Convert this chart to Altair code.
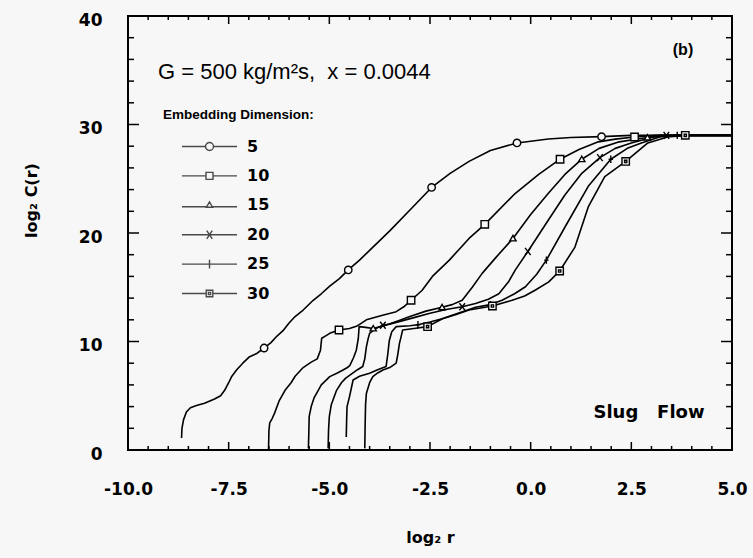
import altair as alt
import pandas as pd

# ---------------- data ----------------
dims = ["5", "10", "15", "20", "25", "30"]

x5 = [-8.67, -8.66, -8.62, -8.55, -8.45, -8.30, -8.10, -7.85, -7.70, -7.60, -7.50, -7.42, -7.30, -7.15,
      -6.98, -6.80, -6.62, -6.45, -6.30, -6.15, -6.00, -5.85, -5.65, -5.40, -5.20, -4.99, -4.75, -4.53,
      -4.25, -4.00, -3.50, -2.95, -2.46, -2.00, -1.53, -1.00, -0.34, 0.44, 1.00, 1.76, 2.50, 5.00]
y5 = [1.1, 2.0, 2.8, 3.5, 3.9, 4.1, 4.3, 4.7, 5.0, 5.5, 6.2, 6.8, 7.4, 8.0,
      8.6, 8.9, 9.4, 9.9, 10.5, 11.0, 11.7, 12.3, 12.9, 13.8, 14.4, 15.1, 15.8, 16.6,
      17.5, 18.4, 20.2, 22.3, 24.2, 25.5, 26.6, 27.6, 28.3, 28.66, 28.8, 28.88, 29.0, 29.0]

x10 = [-6.51, -6.50, -6.48, -6.42, -6.36, -6.25, -6.10, -5.95, -5.85, -5.65, -5.45, -5.30, -5.22, -5.19,
       -5.10, -4.99, -4.76, -4.50, -4.33, -4.20, -4.08, -3.70, -3.34, -3.15, -2.97, -2.70, -2.44, -2.02,
       -1.53, -1.14, -0.38, 0.20, 0.73, 1.20, 1.68, 2.10, 2.58, 3.10, 5.00]
y10 = [0.1, 1.8, 2.5, 2.9, 3.4, 4.5, 5.5, 6.2, 6.8, 7.6, 8.1, 8.4, 9.2, 10.3,
       10.5, 10.75, 11.06, 11.2, 11.4, 11.7, 12.0, 12.4, 12.75, 13.2, 13.8, 14.7, 16.0, 17.5,
       19.5, 20.8, 23.66, 25.4, 26.8, 27.7, 28.4, 28.65, 28.85, 29.0, 29.0]

x15 = [-5.52, -5.51, -5.50, -5.45, -5.38, -5.32, -5.20, -4.99, -4.80, -4.66, -4.55, -4.49, -4.40, -4.33,
       -4.28, -4.26, -4.10, -3.91, -3.60, -3.30, -3.00, -2.60, -2.20, -1.95, -1.70, -1.45, -1.20, -0.85,
       -0.44, 0.00, 0.44, 0.85, 1.27, 1.70, 2.20, 2.90, 3.20, 5.00]
y15 = [0.15, 1.5, 3.1, 4.0, 4.8, 5.2, 6.0, 6.76, 7.1, 7.37, 7.6, 7.8, 8.5, 9.2,
       10.3, 11.37, 11.3, 11.2, 11.5, 11.9, 12.3, 12.8, 13.15, 13.4, 13.8, 15.0, 16.3, 17.8,
       19.5, 21.7, 23.66, 25.4, 26.8, 27.8, 28.4, 28.8, 29.0, 29.0]

x20 = [-5.03, -5.02, -5.00, -4.95, -4.82, -4.70, -4.60, -4.49, -4.30, -4.17, -4.12, -4.08, -4.04, -4.00,
       -3.85, -3.67, -3.50, -3.20, -2.90, -2.50, -2.10, -1.70, -1.37, -1.05, -0.79, -0.55, -0.38, -0.07,
       0.44, 0.85, 1.27, 1.72, 2.10, 2.50, 3.00, 3.37, 5.00]
y20 = [0.15, 1.8, 3.1, 4.2, 5.5, 6.2, 6.6, 6.9, 7.4, 7.7, 8.4, 9.5, 10.2, 10.75,
       11.2, 11.5, 11.6, 11.9, 12.2, 12.6, 12.95, 13.2, 13.5, 13.9, 14.4, 15.5, 16.6, 18.3,
       21.2, 23.5, 25.5, 26.95, 27.8, 28.3, 28.8, 29.0, 29.0]

x25 = [-4.58, -4.57, -4.56, -4.50, -4.41, -4.25, -4.00, -3.80, -3.59, -3.55, -3.51, -3.45, -3.34, -3.00,
       -2.80, -2.50, -2.20, -1.80, -1.37, -1.00, -0.71, -0.40, -0.13, 0.15, 0.39, 0.86, 1.43, 1.99,
       2.40, 2.75, 3.20, 3.64, 5.00]
y25 = [1.2, 2.8, 4.0, 4.9, 6.45, 6.8, 7.07, 7.4, 7.7, 8.8, 10.1, 10.9, 11.37, 11.45,
       11.55, 11.8, 12.1, 12.6, 13.15, 13.4, 13.8, 14.4, 15.05, 16.2, 17.5, 20.6, 24.3, 26.8,
       27.8, 28.3, 28.85, 29.0, 29.0]

x30 = [-4.12, -4.11, -4.10, -4.08, -4.00, -3.92, -3.80, -3.67, -3.50, -3.34, -3.30, -3.26, -3.22, -3.18,
       -2.90, -2.56, -2.19, -1.85, -1.53, -0.95, -0.46, -0.15, 0.12, 0.45, 0.72, 1.10, 1.43, 1.84,
       2.36, 2.91, 3.40, 3.84, 5.00]
y30 = [0.15, 2.5, 4.2, 5.2, 6.2, 6.76, 7.1, 7.37, 7.6, 8.0, 8.8, 9.8, 10.4, 11.06,
       11.2, 11.37, 12.1, 12.5, 12.9, 13.27, 13.8, 14.2, 14.75, 15.5, 16.5, 18.7, 22.4, 25.2,
       26.6, 28.3, 28.85, 29.0, 29.0]

# x positions (on each curve) where the reference draws a marker
mk5 = [-6.62, -4.53, -2.46, -0.34, 1.76]
mk10 = [-4.76, -2.97, -1.14, 0.73, 2.58]
mk15 = [-3.91, -2.20, -0.44, 1.27, 2.90]
mk20 = [-3.67, -1.70, -0.07, 1.72, 3.37]
mk25 = [-2.80, -1.00, 0.39, 1.99, 3.64]
mk30 = [-2.56, -0.95, 0.72, 2.36, 3.84]

x_tick_labels = [-10.0, -7.5, -5.0, -2.5, 0.0, 2.5, 5.0]
y_tick_labels = [0, 10, 20, 30, 40]
x_minor = [v / 2 for v in range(-20, 11) if (v / 2) not in x_tick_labels]
y_minor = [v for v in range(0, 41, 2) if v not in y_tick_labels]

NB = "\u00a0"
annot_cond = [f"G = 500 kg/m²s,{NB}{NB}x = 0.0044"]
annot_panel = ["(b)"]
annot_flow = [f"Slug{NB}{NB}{NB}Flow"]
legend_title = "Embedding Dimension:"

# ---------------- tables ----------------
rows = []
for d, xs, ys in zip(dims, [x5, x10, x15, x20, x25, x30], [y5, y10, y15, y20, y25, y30]):
    for i, (a, b) in enumerate(zip(xs, ys)):
        rows.append({"dim": d, "x": a, "y": b, "i": i})
lines = pd.DataFrame(rows)

mk = {"5": mk5, "10": mk10, "15": mk15, "20": mk20, "25": mk25, "30": mk30}
markers = lines[[x in mk[d] for d, x in zip(lines["dim"], lines["x"])]].drop_duplicates(["dim", "x"])

W, H = 604, 434
BG = "#f7f7f7"
xs_scale = alt.Scale(domain=[-10, 5], nice=False, zero=False)
ys_scale = alt.Scale(domain=[0, 40], nice=False, zero=False)

FONT = "DejaVu Sans"
x_axis = alt.Axis(
    values=x_tick_labels, title="log₂ r", grid=False, ticks=False, tickSize=0,
    labelExpr="(datum.value < 0 ? '-' : '') + format(abs(datum.value), '.1f')",
    domain=False, labelFlush=False, labelFont=FONT, labelFontSize=17, labelFontWeight="bold",
    labelColor="black", labelPadding=31, titleFont=FONT, titleFontSize=16, titleFontWeight="bold",
    titleColor="black", titleY=87, titleBaseline="middle")
y_axis = alt.Axis(
    values=y_tick_labels, format="d", title="log₂ C(r)", grid=False, ticks=False, tickSize=0,
    domain=False, labelFlush=False, labelFont=FONT, labelFontSize=17, labelFontWeight="bold",
    labelColor="black", labelPadding=26, labelOffset=4, titleFont=FONT, titleFontSize=16,
    titleFontWeight="bold", titleColor="black", titleAngle=270, titleX=-97, titleY=184,
    titleAlign="center", titleBaseline="middle")

marker_shapes = [
    "circle",
    "square",
    "M0,-0.8L0.85,0.65L-0.85,0.65Z",
    "M-0.75,-0.95L0.75,0.95M-0.75,0.95L0.75,-0.95",
    "M0,-1V1M-0.6,0H0.6",
    "M-1,-1H1V1H-1ZM-0.3,-0.3H0.3V0.3H-0.3Z",
]
r = 0.145
legend_shapes = [
    f"M-1,0H-{r}M{r},0H1M-{r},0A{r},{r} 0 1,1 {r},0A{r},{r} 0 1,1 -{r},0",
    "M-1,0H-0.127M0.127,0H1M-0.127,-0.127H0.127V0.127H-0.127Z",
    "M-1,0.05H-0.11M0.11,0.05H1M-0.11,0.07L0,-0.12L0.11,0.07Z",
    "M-1,0H1M-0.1,-0.15L0.1,0.15M-0.1,0.15L0.1,-0.15",
    "M-1,0H1M0,-0.16V0.16",
    "M-1,0H-0.12M0.12,0H1M-0.12,-0.12H0.12V0.12H-0.12ZM-0.04,-0.04H0.04V0.04H-0.04Z",
]

X = lambda f: alt.X(f, type="quantitative", scale=xs_scale, axis=x_axis)
Y = lambda f: alt.Y(f, type="quantitative", scale=ys_scale, axis=y_axis)

# ---------------- layers ----------------
line_layer = alt.Chart(lines).mark_line(color="black", strokeWidth=1.6, strokeJoin="round").encode(
    x=X("x"), y=Y("y"), detail="dim:N", order="i:Q",
)

marker_layer = alt.Chart(markers).mark_point(
    filled=True, fill=BG, stroke="black", strokeWidth=1.4, size=55, opacity=1
).encode(
    x=X("x"), y=Y("y"),
    shape=alt.Shape("dim:N", scale=alt.Scale(domain=dims, range=marker_shapes), legend=None),
)

legend_layer = alt.Chart(lines).transform_filter("false").mark_point(
    color="black", filled=False, strokeWidth=1.4
).encode(
    x=X("x"), y=Y("y"),
    shape=alt.Shape("dim:N", scale=alt.Scale(domain=dims, range=legend_shapes), legend=alt.Legend(
        title=legend_title, orient="none", legendX=35, legendY=92, padding=0,
        titleFont="Liberation Sans", titleFontSize=13.5, titleFontWeight="bold", titleColor="black",
        titlePadding=15, labelFont=FONT, labelFontSize=16, labelFontWeight="bold", labelColor="black",
        labelOffset=9, symbolOffset=18, symbolSize=3025, symbolStrokeWidth=1.4,
        symbolStrokeColor="black", symbolFillColor="transparent", clipHeight=20, rowPadding=9.4)),
)


def tick_layer(vals, axis_ch, length, side):
    df = pd.DataFrame({"x": vals}) if axis_ch == "x" else pd.DataFrame({"y": vals})
    base = alt.Chart(df).mark_rule(color="black", strokeWidth=1.5)
    if axis_ch == "x":
        enc = dict(x=X("x"))
        if side == "bottom":
            enc.update(y=alt.value(H), y2=alt.value(H - length))
        else:
            enc.update(y=alt.value(0), y2=alt.value(length))
    else:
        enc = dict(y=Y("y"))
        if side == "left":
            enc.update(x=alt.value(0), x2=alt.value(length))
        else:
            enc.update(x=alt.value(W), x2=alt.value(W - length))
    return base.encode(**enc)


ticks = [
    tick_layer(x_tick_labels, "x", 8, "bottom"), tick_layer(x_minor, "x", 4, "bottom"),
    tick_layer(x_tick_labels, "x", 8, "top"), tick_layer(x_minor, "x", 4, "top"),
    tick_layer(y_tick_labels, "y", 11, "left"), tick_layer(y_minor, "y", 6, "left"),
    tick_layer(y_tick_labels, "y", 11, "right"), tick_layer(y_minor, "y", 6, "right"),
]

txt_cond = alt.Chart(pd.DataFrame({"t": annot_cond})).mark_text(
    align="left", baseline="middle", font="Liberation Sans", fontSize=22, color="black"
).encode(text="t:N", x=alt.value(30), y=alt.value(56))

txt_panel = alt.Chart(pd.DataFrame({"t": annot_panel})).mark_text(
    align="center", baseline="middle", font="Liberation Sans", fontSize=16, fontWeight="bold", color="black"
).encode(text="t:N", x=alt.value(555), y=alt.value(34))

txt_flow = alt.Chart(pd.DataFrame({"t": annot_flow})).mark_text(
    align="center", baseline="middle", font=FONT, fontSize=18, fontWeight="bold", color="black"
).encode(text="t:N", x=alt.value(521), y=alt.value(397))

chart = alt.layer(
    line_layer, marker_layer, legend_layer, *ticks, txt_cond, txt_panel, txt_flow
).resolve_scale(shape="independent").properties(
    width=W, height=H,
    padding={"left": 128, "top": 16, "right": 21, "bottom": 108},
    autosize=alt.AutoSizeParams(type="none"),
    background=BG,
).configure_view(stroke="black", strokeWidth=2)

chart.save("out.html", embed_options={"renderer": "svg", "actions": False})
